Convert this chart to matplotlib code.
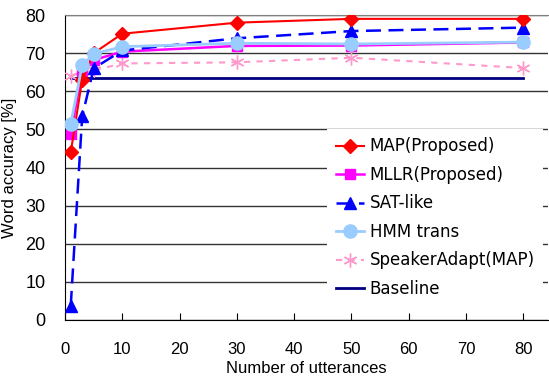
import matplotlib
matplotlib.use("Agg")
import matplotlib.pyplot as plt

plt.rcParams['font.family'] = ['Liberation Sans', 'DejaVu Sans']

# Number of adaptation utterances
utterances = [1, 3, 5, 10, 30, 50, 80]

# Word accuracy [%] per method
map_proposed = [44.0, 63.0, 70.0, 75.1, 78.0, 79.0, 79.0]
mllr_proposed = [48.8, 65.4, 68.2, 70.4, 71.9, 72.0, 72.8]
sat_like = [3.7, 53.4, 66.0, 70.7, 73.9, 75.8, 76.7]
hmm_trans = [51.4, 66.9, 69.8, 71.7, 72.6, 72.4, 72.9]
speaker_adapt = [64.0, 65.2, 65.5, 67.3, 67.6, 68.8, 66.1]
baseline = [63.6] * len(utterances)

fig = plt.figure(figsize=(5.49, 3.76), dpi=100)
ax = fig.add_axes([0.1184, 0.149, 0.8798, 0.811])

ax.plot(utterances, map_proposed, color='#FF0000', lw=1.5, marker='D', ms=7,
        label='MAP(Proposed)', zorder=5)
ax.plot(utterances, mllr_proposed, color='#FF00FF', lw=1.8, marker='s', ms=7,
        label='MLLR(Proposed)', zorder=4)
ax.plot(utterances, sat_like, color='#0000FF', lw=1.8, ls=(0, (6, 3)), marker='^', ms=8,
        label='SAT-like', zorder=4)
ax.plot(utterances, hmm_trans, color='#99CCFF', lw=2, marker='o', ms=9.5,
        label='HMM trans', zorder=6)
ax.plot(utterances, speaker_adapt, color='#FF99CC', lw=1.5, ls=(0, (3, 3)), marker=(6, 2, 0), ms=10,
        mew=1, label='SpeakerAdapt(MAP)', zorder=3)
ax.plot(utterances, baseline, color='#000080', lw=2, label='Baseline', zorder=2)

ax.set_xlim(0, 84.3)
ax.set_ylim(0, 80)
ax.set_xticks(range(0, 81, 10))
ax.set_yticks(range(0, 81, 10))
ax.yaxis.grid(True, color='#333333', lw=1)
ax.set_axisbelow(True)
ax.tick_params(axis='x', direction='in', length=5, labelsize=12, pad=16)
ax.tick_params(axis='y', length=0, labelsize=13, pad=14)
ax.spines['top'].set_color('#808080')
ax.spines['right'].set_visible(False)

ax.set_xlabel('Number of utterances', fontsize=12)
ax.xaxis.set_label_coords(0.5, -0.135)
ax.set_ylabel('Word accuracy [%]', fontsize=12, labelpad=6)

leg = ax.legend(loc='lower right', bbox_to_anchor=(0.99, 0.045),
                prop={'family': 'DejaVu Sans', 'size': 12},
                frameon=True, handlelength=1.7, labelspacing=0.63, borderpad=0.5,
                handletextpad=0.35, borderaxespad=0)
leg.get_frame().set_edgecolor('none')
leg.get_frame().set_facecolor('white')
leg.get_frame().set_alpha(1)
leg.get_frame().set_boxstyle('square', pad=0)

fig.savefig('out.png', dpi=100)
